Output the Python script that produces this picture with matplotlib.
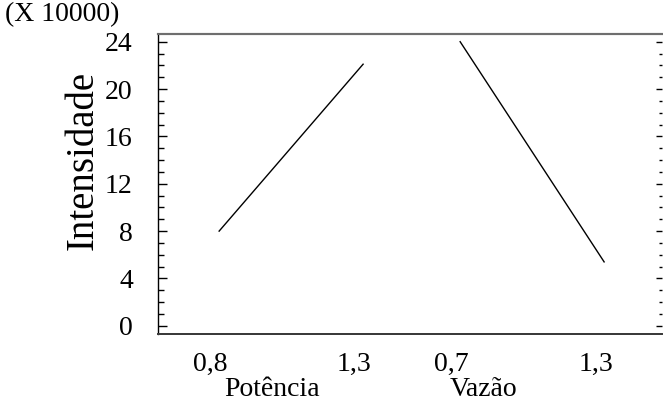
import matplotlib
matplotlib.use('Agg')
import matplotlib.pyplot as plt
from matplotlib.ticker import MultipleLocator
import matplotlib.transforms as mtrans

plt.rcParams['font.family'] = ['Liberation Serif', 'DejaVu Serif']

# data (intensity in units of 10000)
factors = ['Potência', 'Vazão']
pot_levels = ['0,8', '1,3']
vaz_levels = ['0,7', '1,3']
pot_means = [8.0, 22.1]
vaz_means = [24.0, 5.4]

# layout: each factor spans one unit on x, with a gap between them
pot_x = [0.0, 1.0]
vaz_x = [1.674, 2.674]
label_shift = -0.06  # level labels sit a little left of the line ends
name_x = [0.368, 1.833]
fs = 20

fig = plt.figure(figsize=(6.63, 4.04), dpi=100)
ax = fig.add_axes([0.238, 0.173, 0.7605, 0.744])

ax.plot(pot_x, pot_means, color='black', lw=1)
ax.plot(vaz_x, vaz_means, color='black', lw=1)

ax.set_xlim(-0.426, 3.076)
ax.set_ylim(-0.7, 24.69)

ax.yaxis.set_major_locator(MultipleLocator(4))
ax.yaxis.set_minor_locator(MultipleLocator(1))
ax.tick_params(axis='y', which='major', direction='in', length=6.5, width=1,
               labelsize=fs, pad=18, left=True, right=False)
ax.tick_params(axis='y', which='minor', direction='in', length=4, width=1,
               left=True, right=False)

tick_pos = [p + label_shift for p in pot_x + vaz_x]
ax.set_xticks(tick_pos)
ax.set_xticklabels(pot_levels + vaz_levels)
ax.tick_params(axis='x', length=0, labelsize=fs, pad=13)

trans = mtrans.blended_transform_factory(ax.transData, ax.transAxes)
for nx, name in zip(name_x, factors):
    ax.text(nx, -0.142, name, transform=trans, ha='center', va='top', fontsize=fs)

# right side ticks are shorter
rax = ax.twinx()
rax.set_ylim(ax.get_ylim())
rax.yaxis.set_major_locator(MultipleLocator(4))
rax.yaxis.set_minor_locator(MultipleLocator(1))
rax.tick_params(axis='y', which='major', direction='in', length=4.3, width=1, labelright=False)
rax.tick_params(axis='y', which='minor', direction='in', length=2.2, width=1)
for a in (ax, rax):
    a.spines['right'].set_visible(False)
    a.spines['left'].set_visible(False)
    a.spines['top'].set_color('#6e6e6e')
    a.spines['top'].set_linewidth(1.5)
    a.spines['bottom'].set_color('#3a3a3a')
    a.spines['bottom'].set_linewidth(1.3)
ax.spines['left'].set_visible(True)
ax.spines['left'].set_color('black')
ax.spines['left'].set_linewidth(1)

ax.set_ylabel('Intensidade', fontsize=28)
ax.yaxis.set_label_coords(-0.112, 0.579)

fig.text(0.008, 0.995, '(X 10000)', fontsize=fs, ha='left', va='top')

fig.savefig('out.png', dpi=100)
